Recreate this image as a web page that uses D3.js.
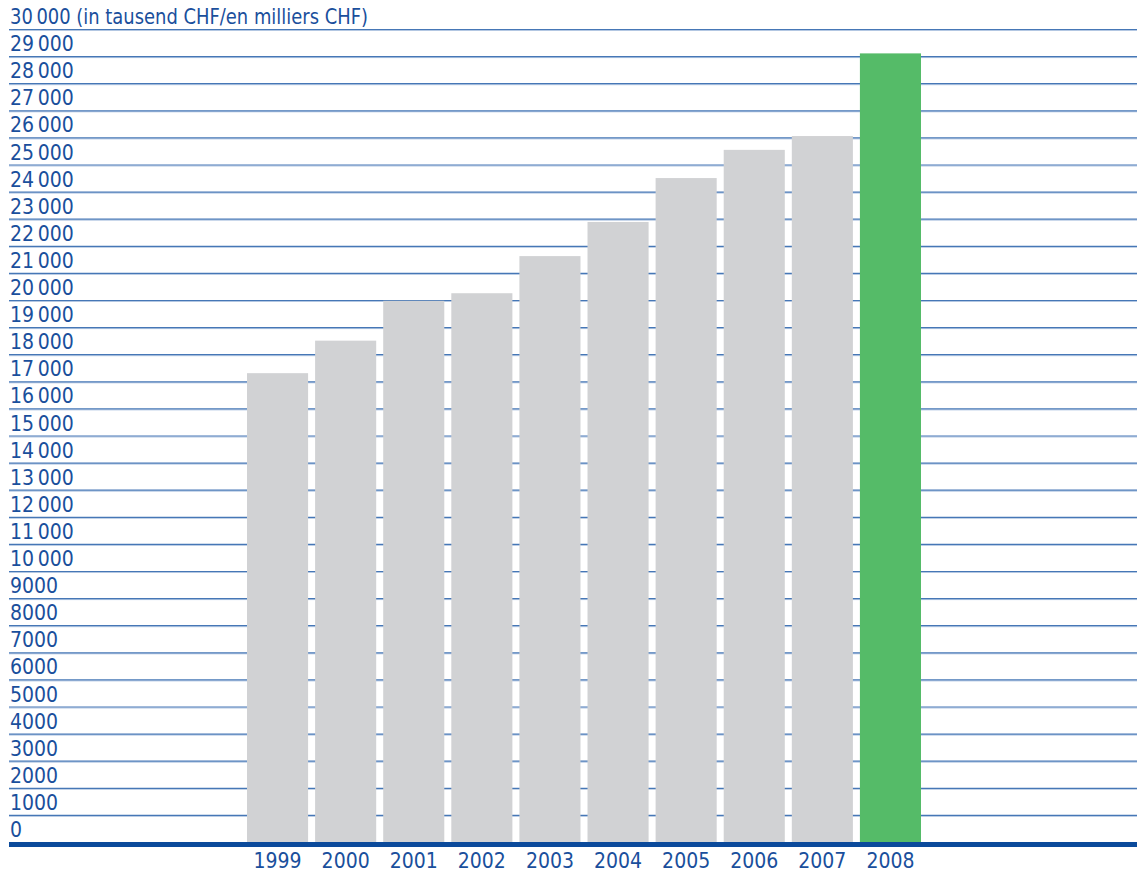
<!DOCTYPE html>
<html>
<head>
<meta charset="utf-8">
<script src="https://cdn.jsdelivr.net/npm/d3@7"></script>
<style>
  body { margin: 0; background: #fff; }
  text { font-family: "Liberation Sans Narrow", "DejaVu Sans Condensed", "Liberation Sans", sans-serif; }
</style>
</head>
<body>
<svg id="chart" width="1137" height="875"></svg>
<script>
// values in thousand CHF
var years = ["1999", "2000", "2001", "2002", "2003", "2004", "2005", "2006", "2007", "2008"];
var values = [17300, 18500, 19970, 20250, 21620, 22880, 24500, 25540, 26050, 29100];
var highlight = "2008";
var yTicks = d3.range(0, 30001, 1000);
var unitLabel = " (in tausend CHF/en milliers CHF)";

var width = 1137, height = 875;
var left = 9, right = 1137;
var blue = "#1a4f9c";

var svg = d3.select("#chart");

var y = d3.scaleLinear()
    .domain([0, 30000])
    .range([842, 29]);

var x = d3.scaleBand()
    .domain(years)
    .range([247 - 3.5, 921 + 3.5])
    .paddingInner(7 / 68)
    .paddingOuter(0.5 * 7 / 68);

// gridlines with a light shadow underneath
var grid = svg.append("g");
grid.selectAll("line.shade")
    .data(yTicks.filter(d => d > 0))
    .enter().append("line")
    .attr("x1", left).attr("x2", right)
    .attr("y1", d => y(d) + 1.5).attr("y2", d => y(d) + 1.5)
    .attr("stroke", "#b3c7e2")
    .attr("stroke-width", 1);
grid.selectAll("line.main")
    .data(yTicks.filter(d => d > 0))
    .enter().append("line")
    .attr("x1", left).attr("x2", right)
    .attr("y1", d => y(d) + 0.5).attr("y2", d => y(d) + 0.5)
    .attr("stroke", "#4677b6")
    .attr("stroke-width", 1.2);

// y labels sit above their gridline
var fmt = function (d) {
    if (d >= 10000) return d3.format(",")(d).replace(",", "\u2009");
    return String(d);
};
svg.append("g").selectAll("text")
    .data(yTicks)
    .enter().append("text")
    .attr("x", 10)
    .attr("y", d => y(d) - 5)
    .attr("fill", blue)
    .attr("font-size", 21)
    .text(d => d == 30000 ? fmt(d) + unitLabel : fmt(d))
    .each(function (d) {
        // the unit label is set a bit tighter in the original
        if (d == 30000) d3.select(this).attr("textLength", 358).attr("lengthAdjust", "spacingAndGlyphs");
    });

// bars
svg.append("g").selectAll("rect")
    .data(years)
    .enter().append("rect")
    .attr("x", d => x(d))
    .attr("width", x.bandwidth())
    .attr("y", (d, i) => y(values[i]))
    .attr("height", (d, i) => y(0) - y(values[i]))
    .attr("fill", d => d == highlight ? "#55bb68" : "#d1d2d4");

// baseline
svg.append("rect")
    .attr("x", left)
    .attr("y", 842)
    .attr("width", right - left)
    .attr("height", 5)
    .attr("fill", "#0b4a9b");

// x labels
svg.append("g").selectAll("text")
    .data(years)
    .enter().append("text")
    .attr("x", d => x(d) + x.bandwidth() / 2)
    .attr("y", 868)
    .attr("text-anchor", "middle")
    .attr("fill", blue)
    .attr("font-size", 21)
    .text(d => d);
</script>
</body>
</html>
